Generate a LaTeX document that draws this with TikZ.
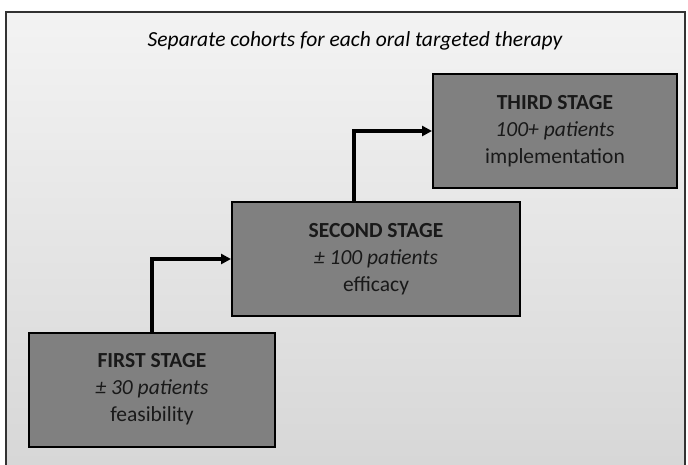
\documentclass[tikz,border=0pt]{standalone}
\usepackage{fontspec}
\setmainfont{Carlito}
\usetikzlibrary{arrows.meta}
\definecolor{boxgray}{HTML}{808080}
\definecolor{bgtop}{HTML}{F3F3F3}
\definecolor{bgbottom}{HTML}{D6D6D6}
\tikzset{
  stagebox/.style={draw=black, line width=2pt, fill=boxgray, align=center,
    minimum height=114pt, text=black!90, font=\fontsize{21.5}{27}\selectfont},
  steparrow/.style={-{Triangle[length=10pt,width=10pt]}, line width=3.5pt}
}
\begin{document}
\begin{tikzpicture}[x=1pt, y=-1pt]
        \useasboundingbox (0,0) rectangle (688,464);
        \begin{scope}
          \clip (0,0) rectangle (688,464);
          \shade [top color=bgtop, bottom color=bgbottom, draw=black!80, line width=1.2pt]
            (6,12) rectangle (685,480);
        \end{scope}

        \node (title) at (355, 41) {\fontsize{21.5}{24}\selectfont\itshape Separate cohorts for each oral targeted therapy};

        \node [stagebox, minimum width=246pt] (first) at (152, 389.5)
          {\textbf{FIRST STAGE}\\ \textit{± 30 patients}\\ feasibility};
        \node [stagebox, minimum width=288pt] (second) at (376, 259)
          {\textbf{SECOND STAGE}\\ \textit{± 100 patients}\\ efficacy};
        \node [stagebox, minimum width=244pt] (third) at (555, 131)
          {\textbf{THIRD STAGE}\\ \textit{100+ patients}\\ implementation};

        \draw [steparrow] (first.north) |- (second.west);
        \draw [steparrow] ([xshift=-22pt]second.north) |- (third.west);
      \end{tikzpicture}
\end{document}
